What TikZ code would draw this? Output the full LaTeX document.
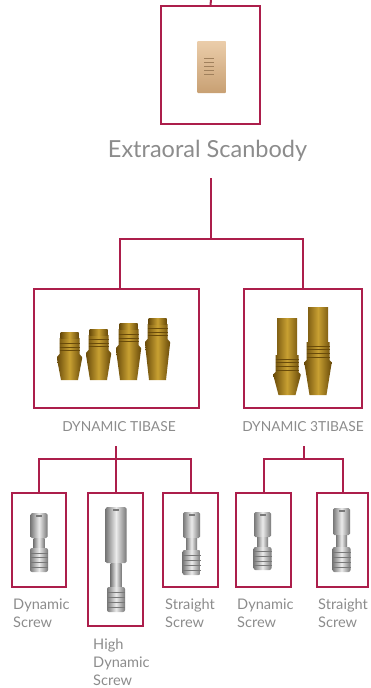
\documentclass[tikz,border=0pt]{standalone}
\usepackage{fontspec}
\setmainfont{Lato}
\usepackage{xcolor}
\usepackage{tikz}
\usetikzlibrary{positioning,calc}

\definecolor{crimson}{RGB}{172,30,75}
\definecolor{txtgray}{RGB}{140,140,140}
\definecolor{goldD}{RGB}{105,75,10}
\definecolor{goldL}{RGB}{200,160,50}
\definecolor{tanD}{RGB}{200,160,115}
\definecolor{tanL}{RGB}{235,205,170}
\definecolor{silverD}{RGB}{120,120,120}
\definecolor{silverL}{RGB}{235,235,235}

\tikzset{
  frame/.style={draw=crimson, line width=2pt, inner sep=0pt},
  link/.style={draw=crimson, line width=2pt},
  title/.style={text=txtgray, font=\fontsize{23.5}{26}\selectfont},
  caps/.style={text=txtgray, font=\fontsize{13.8}{16}\selectfont},
  lbl/.style={text=txtgray, font=\fontsize{14.6}{18}\selectfont, align=left, anchor=north west, inner sep=0pt}
}

% gold tibase: x, top, flange, bottom
\newcommand{\tibase}[4]{%
  \shade[left color=goldD, right color=goldD, middle color=goldL]
    ({#1-12.5},#3) -- ({#1-10},{#3-3}) -- ({#1-10},{#2+6}) -- ({#1+10},{#2+6}) -- ({#1+10},{#3-3})
    -- ({#1+12.5},#3) -- ({#1+12.5},{#3+2}) -- ({#1+8.5},#4) -- ({#1-8.5},#4) -- ({#1-12.5},{#3+2}) -- cycle;
  \shade[left color=goldD, right color=goldD, middle color=goldL] ({#1-9},#2) rectangle ({#1+9},{#2+6});
  \foreach \g in {1,2,3} \draw[goldD, line width=0.6pt] ({#1-10},{#3-3-3.5*\g}) -- ({#1+10},{#3-3-3.5*\g});
}
% tall gold tibase: x, top, thread start, flange, bottom
\newcommand{\tallbase}[5]{%
  \shade[left color=goldD, right color=goldD, middle color=goldL]
    ({#1-13.5},#4) -- ({#1-11.5},{#4-2}) -- ({#1-11.5},#3) -- ({#1-10},#3) -- ({#1-10},#2) -- ({#1+10},#2)
    -- ({#1+10},#3) -- ({#1+11.5},#3) -- ({#1+11.5},{#4-2}) -- ({#1+13.5},#4) -- ({#1+13.5},{#4+2})
    -- ({#1+8.5},#5) -- ({#1-8.5},#5) -- ({#1-13.5},{#4+2}) -- cycle;
  \foreach \g in {1,2,3,4} \draw[goldD, line width=0.6pt] ({#1-11.5},{#3+3.8*\g}) -- ({#1+11.5},{#3+3.8*\g});
}
% silver screw: x, top, head bottom, neck bottom, thread bottom, head half width
\newcommand{\screw}[6]{%
  \shade[left color=silverD, right color=silverD, middle color=silverL, rounded corners=1.5pt]
    ({#1-#6},#2) rectangle ({#1+#6},#3);
  \shade[left color=silverD, right color=silverD, middle color=silverL]
    ({#1-5.5},#3) rectangle ({#1+5.5},#4);
  \shade[left color=silverD, right color=silverD, middle color=silverL, rounded corners=2pt]
    ({#1-9},#4) rectangle ({#1+9},#5);
  \foreach \g in {0.2,0.4,0.6,0.8} \draw[silverD, line width=0.6pt] ({#1-9},{#4+\g*(#5-#4)}) -- ({#1+9},{#4+\g*(#5-#4)});
  \fill[silverD] ({#1-3},{#2+2}) rectangle ({#1+3},{#2+4});
}

\begin{document}
\begin{tikzpicture}[x=1pt, y=-1pt]
        \useasboundingbox (0,0) rectangle (370,688);

        % Scanbody
        \coordinate (top) at (211,0);
        \node[frame, minimum width=99pt, minimum height=118pt] (scan) at (210.5,65) {};
        \shade[top color=tanL, bottom color=tanD, rounded corners=1pt] (197,41) rectangle (226,93);
        \foreach \r in {58,62,66,70,74} \draw[tanD!80!black, line width=0.8pt] (204,\r) -- (214,\r);
        \node[title] (scanlbl) at (207.5,151) {Extraoral Scanbody};
        \draw[link] (top) -- (scan.north);

        % Tibases
        \node[frame, minimum width=165pt, minimum height=119pt] (tib) at (116.5,348.5) {};
        \node[frame, minimum width=118pt, minimum height=119pt] (tib3) at (303,348.5) {};
        \tibase{69.5}{332}{357}{380}
        \tibase{98.5}{329}{353}{380}
        \tibase{128.5}{323}{348}{380}
        \tibase{157.5}{318}{342}{380}
        \tallbase{287}{318}{355}{374}{395}
        \tallbase{318}{307}{342}{362}{395}
        \node[caps] (tiblbl) at (119,427) {DYNAMIC TIBASE};
        \node[caps] (tib3lbl) at (303,427) {DYNAMIC 3TIBASE};

        \coordinate (fork1) at (211,178);
        \coordinate (bar1) at (211,239);
        \draw[link] (fork1) -- (bar1);
        \draw[link] (bar1) -| ([xshift=3.5pt]tib.north);
        \draw[link] (bar1) -| (tib3.north);

        % Screws
        \node[frame, minimum width=54pt, minimum height=94pt] (s1) at (39,540) {};
        \node[frame, minimum width=55pt, minimum height=133pt] (s2) at (115.5,559.5) {};
        \node[frame, minimum width=55pt, minimum height=94pt] (s3) at (190.5,540) {};
        \node[frame, minimum width=55pt, minimum height=94pt] (s4) at (263.5,540) {};
        \node[frame, minimum width=51pt, minimum height=94pt] (s5) at (342.5,540) {};
        \screw{39}{513}{538}{548}{572}{8.5}
        \screw{116}{507}{563}{587}{612}{10.5}
        \screw{191.5}{512}{538}{550}{575}{8.5}
        \screw{262.5}{512}{537}{547}{570}{8.5}
        \screw{341.5}{508}{535}{547}{572}{8.5}

        \node[lbl] (l1) at (13,599) {Dynamic\\Screw};
        \node[lbl] (l2) at (93,639) {High\\Dynamic\\Screw};
        \node[lbl] (l3) at (165,599) {Straight\\Screw};
        \node[lbl] (l4) at (237,599) {Dynamic\\Screw};
        \node[lbl] (l5) at (318,599) {Straight\\Screw};

        \coordinate (fork2) at (116,446);
        \coordinate (bar2) at (116,459);
        \draw[link] (fork2) -- (bar2);
        \draw[link] (bar2) -| (s1.north);
        \draw[link] (bar2) -| (s2.north);
        \draw[link] (bar2) -| (s3.north);

        \coordinate (fork3) at (304,446);
        \coordinate (bar3) at (304,459);
        \draw[link] (fork3) -- (bar3);
        \draw[link] (bar3) -| (s4.north);
        \draw[link] (bar3) -| (s5.north);
    \end{tikzpicture}
\end{document}
